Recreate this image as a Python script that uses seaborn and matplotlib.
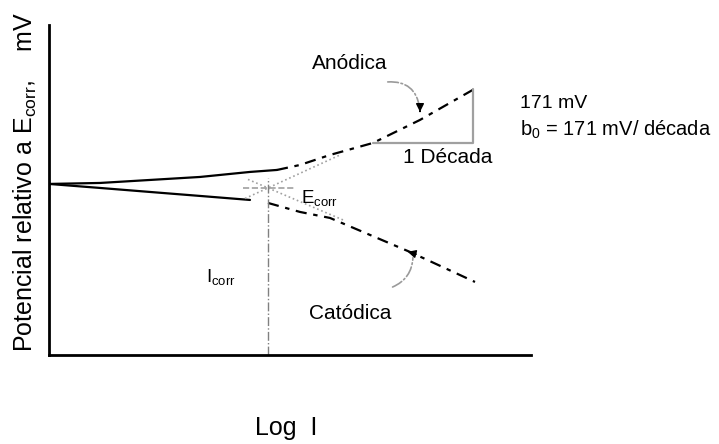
import numpy as np
import pandas as pd
import matplotlib.pyplot as plt
import seaborn as sns

# Curvas de polarização (x em décadas de log I, y em mV relativo a Ecorr)
anod_sol_x = [0.00, 0.51, 1.01, 1.51, 2.01, 2.28]
anod_sol_y = [12.7, 15.8, 25.3, 34.8, 50.7, 57.0]
anod_tr_x = [2.28, 2.51, 2.81, 3.24, 3.71, 4.29]
anod_tr_y = [57.0, 72.8, 104.5, 142.5, 215.4, 319.9]

cat_sol_x = [0.00, 0.51, 1.01, 1.51, 2.01]
cat_sol_y = [12.7, 0.0, -12.7, -25.3, -38.0]
cat_tr_x = [2.19, 2.51, 2.81, 3.21, 3.61, 4.26]
cat_tr_y = [-47.5, -76.0, -95.0, -148.8, -202.7, -297.7]

# Ecorr / Icorr
e_corr = 0.0
log_icorr = 2.19
b0 = 171  # mV/década

sns.set_style('white')
plt.rcParams['font.family'] = ['Liberation Sans', 'DejaVu Sans']
plt.rcParams['text.color'] = 'black'
plt.rcParams['mathtext.fontset'] = 'custom'
plt.rcParams['mathtext.rm'] = 'Liberation Sans'
plt.rcParams['mathtext.it'] = 'Liberation Sans'

fig = plt.figure(figsize=(7.19, 4.44), dpi=100)
ax = fig.add_axes([49/719, 89/444, 482/719, 330/444])

sns.lineplot(x=anod_sol_x, y=anod_sol_y, ax=ax, color='black', lw=1.6, sort=False)
sns.lineplot(x=cat_sol_x, y=cat_sol_y, ax=ax, color='black', lw=1.6, sort=False)
sns.lineplot(x=anod_tr_x, y=anod_tr_y, ax=ax, color='black', lw=1.6, sort=False,
             linestyle=(0, (5, 3, 2, 3)))
sns.lineplot(x=cat_tr_x, y=cat_tr_y, ax=ax, color='black', lw=1.6, sort=False,
             linestyle=(0, (5, 3, 2, 3)))

# Extrapolações de Tafel (cinza)
ta_x = np.array([1.96, 2.9])
ax.plot(ta_x, e_corr + 145 * (ta_x - log_icorr), color='#a0a0a0', lw=1.2, ls=':')
tc_x = np.array([1.99, 2.95])
ax.plot(tc_x, e_corr - 135 * (tc_x - log_icorr), color='#a0a0a0', lw=1.2, ls=':')
ax.plot([1.94, 2.46], [e_corr, e_corr], color='#a0a0a0', lw=1.2, ls='--')
ax.plot([log_icorr, log_icorr], [-530, 32], color='#808080', lw=1.0, ls='-.')

# Triângulo de 1 década
tx = anod_tr_x[3]
ty = anod_tr_y[3]
ax.plot([tx, tx + 1, tx + 1], [ty, ty, ty + b0], color='#a0a0a0', lw=1.6)

# Setas (curva cinza + ponta preta)
ax.annotate('', xy=(3.71, 245), xytext=(3.36, 335),
            arrowprops=dict(arrowstyle='-', color='#9a9a9a', lw=1.2, ls='-.',
                            connectionstyle='arc3,rad=-0.5'))
ax.annotate('', xy=(3.71, 232), xytext=(3.71, 252),
            arrowprops=dict(arrowstyle='-|>', color='black', lw=1.0,
                            mutation_scale=12))
ax.annotate('', xy=(3.64, -212), xytext=(3.41, -317),
            arrowprops=dict(arrowstyle='-', color='#9a9a9a', lw=1.2, ls='-.',
                            connectionstyle='arc3,rad=0.35'))
ax.annotate('', xy=(3.56, -200), xytext=(3.70, -212),
            arrowprops=dict(arrowstyle='-|>', color='black', lw=1.0,
                            mutation_scale=12))

ax.text(3.01, 395, 'Anódica', fontsize=15, ha='center', va='center')
ax.text(3.01, -396, 'Catódica', fontsize=15, ha='center', va='center')
ax.text(3.99, 95, '1 Década', fontsize=15, ha='center', va='center')
ax.text(2.52, -32, r'E$_{\mathrm{corr}}$', fontsize=13.5, ha='left', va='center')
ax.text(1.72, -282, r'I$_{\mathrm{corr}}$', fontsize=13.5, ha='center', va='center')

fig.text(520/719, 1 - 103/444, '171 mV', fontsize=14, ha='left', va='center')
fig.text(520/719, 1 - 130/444, r'b$_0$ = 171 mV/ década', fontsize=14.5, ha='left', va='center')
fig.text(25/719, 1 - 182/444, r'Potencial relativo a E$_{\mathrm{corr}}$,    mV',
         fontsize=18, rotation=90, ha='center', va='center')
fig.text(286/719, 1 - 428/444, 'Log  I', fontsize=18, ha='center', va='center')

ax.set_xlim(0, 4.82)
ax.set_ylim(-529, 516)
ax.set_xticks([])
ax.set_yticks([])
sns.despine(ax=ax)
for s in ['left', 'bottom']:
    ax.spines[s].set_color('black')
    ax.spines[s].set_linewidth(2)

fig.savefig('out.png', dpi=100)
